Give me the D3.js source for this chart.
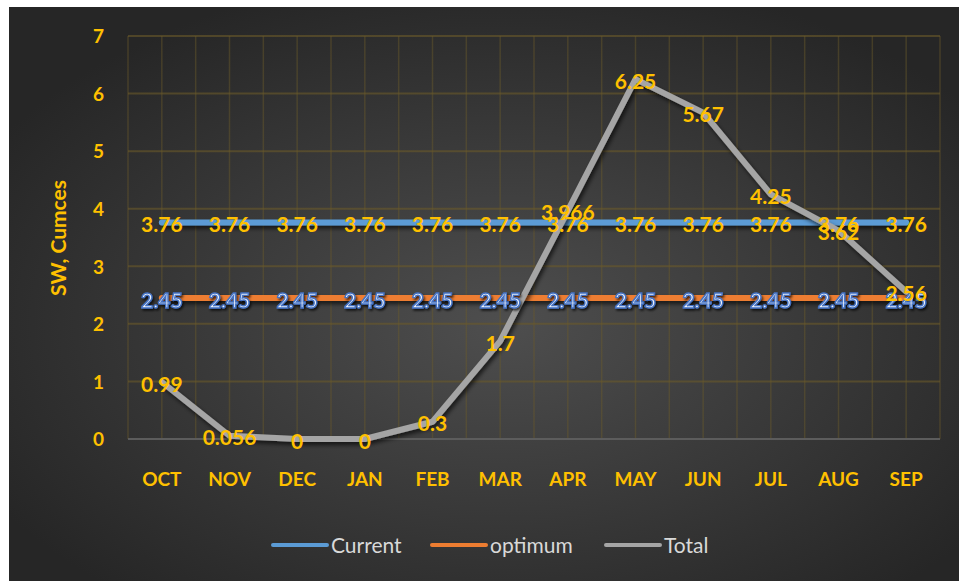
<!DOCTYPE html>
<html>
<head>
<meta charset="utf-8">
<script src="https://cdn.jsdelivr.net/npm/d3@7"></script>
<style>
  html, body { margin: 0; padding: 0; background: #ffffff; }
  svg { display: block; }
  text { font-family: Lato, "Open Sans", "DejaVu Sans", sans-serif; }
</style>
</head>
<body>
<svg id="chart" width="959" height="581"></svg>
<script>
// Monthly values (water year, Oct–Sep)
const months = ["OCT", "NOV", "DEC", "JAN", "FEB", "MAR", "APR", "MAY", "JUN", "JUL", "AUG", "SEP"];
const current = [3.76, 3.76, 3.76, 3.76, 3.76, 3.76, 3.76, 3.76, 3.76, 3.76, 3.76, 3.76];
const optimum = [2.45, 2.45, 2.45, 2.45, 2.45, 2.45, 2.45, 2.45, 2.45, 2.45, 2.45, 2.45];
const total = [0.99, 0.056, 0, 0, 0.3, 1.7, 3.966, 6.25, 5.67, 4.25, 3.62, 2.56];
const yTicks = [0, 1, 2, 3, 4, 5, 6, 7];
const seriesNames = ["Current", "optimum", "Total"];
const seriesColors = ["#5B9BD5", "#ED7D31", "#A5A5A5"];

const svg = d3.select("#chart");
const defs = svg.append("defs");

// Dark chart-area fill, lighter toward the middle
const grad = defs.append("radialGradient")
  .attr("id", "bg").attr("cx", "52%").attr("cy", "55%").attr("r", "62%");
grad.append("stop").attr("offset", "0%").attr("stop-color", "#4e4e4e");
grad.append("stop").attr("offset", "100%").attr("stop-color", "#262626");

// Line shadow; region in user space so flat lines keep their shadow
const shadow = defs.append("filter").attr("id", "shadow")
  .attr("filterUnits", "userSpaceOnUse")
  .attr("x", 0).attr("y", 0).attr("width", 959).attr("height", 581);
shadow.append("feDropShadow").attr("dx", 2).attr("dy", 3).attr("stdDeviation", 2)
  .attr("flood-color", "#000").attr("flood-opacity", 0.65);

const txtShadow = defs.append("filter").attr("id", "tshadow")
  .attr("x", "-20%").attr("y", "-30%").attr("width", "150%").attr("height", "170%");
txtShadow.append("feDropShadow").attr("dx", 1.5).attr("dy", 2).attr("stdDeviation", 1.2)
  .attr("flood-color", "#000").attr("flood-opacity", 0.7);

svg.append("rect").attr("x", 9).attr("y", 7).attr("width", 950).attr("height", 574)
  .attr("fill", "url(#bg)");

const plot = { left: 128, right: 940, top: 36, bottom: 439 };

const x = d3.scaleBand().domain(months).range([plot.left, plot.right]).padding(0);
const y = d3.scaleLinear().domain([0, 7]).range([plot.bottom, plot.top]);
const cx = d => x(d) + x.bandwidth() / 2;

// Vertical gridlines at band edges and band centres
const vLines = [];
months.forEach(m => { vLines.push(x(m)); vLines.push(cx(m)); });
vLines.push(plot.right);
svg.append("g").selectAll("line").data(vLines).join("line")
  .attr("x1", d => d).attr("x2", d => d)
  .attr("y1", plot.top).attr("y2", plot.bottom)
  .attr("stroke", "#6b5a2a").attr("stroke-opacity", 0.45).attr("stroke-width", 1.5);

// Horizontal gridlines
svg.append("g").selectAll("line").data(yTicks.filter(t => t > 0)).join("line")
  .attr("x1", plot.left).attr("x2", plot.right)
  .attr("y1", d => y(d)).attr("y2", d => y(d))
  .attr("stroke", "#6b5a2a").attr("stroke-opacity", 0.6).attr("stroke-width", 2);

// Category axis line
svg.append("line")
  .attr("x1", plot.left).attr("x2", plot.right)
  .attr("y1", y(0)).attr("y2", y(0))
  .attr("stroke", "#5c5c5c").attr("stroke-width", 2);

// Value axis labels
const yAxis = d3.axisLeft(y).tickValues(yTicks).tickSize(0).tickPadding(0).tickFormat(d3.format("d"));
const yg = svg.append("g").attr("transform", `translate(${plot.left - 24},0)`).call(yAxis);
yg.select(".domain").remove();
yg.selectAll("text").attr("fill", "#FFC000").attr("font-size", 19).attr("font-weight", "bold")
  .attr("dy", "0.36em");

// Category axis labels
const xAxis = d3.axisBottom(x).tickSize(0).tickPadding(0);
const xg = svg.append("g").attr("transform", `translate(0,${plot.bottom + 40})`).call(xAxis);
xg.select(".domain").remove();
xg.selectAll("text").attr("fill", "#FFC000").attr("font-size", 19).attr("font-weight", "bold")
  .attr("dy", "0.36em");

// Axis title
svg.append("text")
  .attr("transform", `translate(66,238) rotate(-90)`)
  .attr("text-anchor", "middle")
  .attr("fill", "#FFC000").attr("font-size", 21).attr("font-weight", "bold")
  .text("SW, Cumces");

// Series lines
const allSeries = [current, optimum, total];
const line = d3.line().x((d, i) => cx(months[i])).y(d => y(d));
allSeries.forEach((vals, k) => {
  svg.append("path").datum(vals)
    .attr("d", line)
    .attr("fill", "none")
    .attr("stroke", seriesColors[k])
    .attr("stroke-width", 6)
    .attr("stroke-linecap", "round")
    .attr("stroke-linejoin", "round")
    .attr("filter", "url(#shadow)");
});

// Data labels, centred on each point
const fmt = v => String(v);
function labels(vals, styleFn) {
  const g = svg.append("g");
  g.selectAll("text").data(vals).join("text")
    .attr("x", (d, i) => cx(months[i]))
    .attr("y", d => y(d))
    .attr("dy", "0.46em")
    .attr("text-anchor", "middle")
    .attr("font-size", 21).attr("font-weight", "bold")
    .text(fmt)
    .call(styleFn);
}
labels(current, s => s.attr("fill", "#FFC000"));
labels(optimum, s => s.attr("fill", "#eef3fb").attr("stroke", "#4472C4").attr("stroke-width", 1.4)
  .attr("paint-order", "fill").attr("filter", "url(#tshadow)"));
labels(total, s => s.attr("fill", "#FFC000"));

// Legend
const legend = svg.append("g");
const legendX = [273, 432, 606];
seriesNames.forEach((name, k) => {
  legend.append("line")
    .attr("x1", legendX[k]).attr("x2", legendX[k] + 54)
    .attr("y1", 545).attr("y2", 545)
    .attr("stroke", seriesColors[k]).attr("stroke-width", 4).attr("stroke-linecap", "round");
  legend.append("text")
    .attr("x", legendX[k] + 58).attr("y", 545).attr("dy", "0.36em")
    .attr("fill", "#d9d9d9").attr("font-size", 21)
    .text(name);
});
</script>
</body>
</html>
